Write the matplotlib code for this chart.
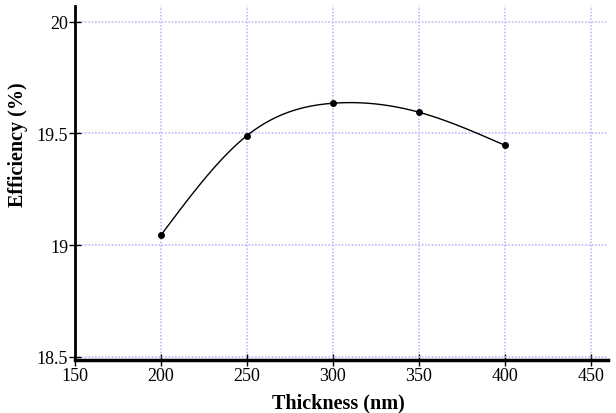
import matplotlib.pyplot as plt
import numpy as np

thickness = [200, 250, 300, 350, 400]
efficiency = [19.045, 19.49, 19.635, 19.595, 19.447]

x_ticks = [150, 200, 250, 300, 350, 400, 450]
y_ticks = [18.5, 19, 19.5, 20]
y_ticklabels = ['18.5', '19', '19.5', '20']


def natural_spline(x, y, xs):
    # natural cubic spline through the points, for the smooth line
    x = np.asarray(x, float)
    y = np.asarray(y, float)
    n = len(x)
    h = np.diff(x)
    A = np.zeros((n, n))
    b = np.zeros(n)
    A[0, 0] = A[-1, -1] = 1
    for i in range(1, n - 1):
        A[i, i - 1] = h[i - 1]
        A[i, i] = 2 * (h[i - 1] + h[i])
        A[i, i + 1] = h[i]
        b[i] = 3 * ((y[i + 1] - y[i]) / h[i] - (y[i] - y[i - 1]) / h[i - 1])
    c = np.linalg.solve(A, b)
    idx = np.clip(np.searchsorted(x, xs) - 1, 0, n - 2)
    dx = xs - x[idx]
    bb = (y[idx + 1] - y[idx]) / h[idx] - h[idx] * (2 * c[idx] + c[idx + 1]) / 3
    d = (c[idx + 1] - c[idx]) / (3 * h[idx])
    return y[idx] + bb * dx + c[idx] * dx ** 2 + d * dx ** 3


plt.rcParams['font.family'] = ['Liberation Serif', 'DejaVu Serif']

fig = plt.figure(figsize=(6.16, 4.14), dpi=100)
ax = fig.add_axes([0.1218, 0.128, 0.865, 0.855])

xs = np.linspace(thickness[0], thickness[-1], 300)
ax.plot(xs, natural_spline(thickness, efficiency, xs), color='black', linewidth=1)
ax.plot(thickness, efficiency, 'o', color='black', markersize=4)

ax.set_xlim(150, 460)
ax.set_ylim(18.486, 20.07)
ax.set_xticks(x_ticks)
ax.set_yticks(y_ticks)
ax.set_yticklabels(y_ticklabels)

ax.grid(True, color='#bcbcfa', linestyle=(0, (1, 1)), linewidth=1.2)
ax.set_axisbelow(True)

for side in ['top', 'right']:
    ax.spines[side].set_visible(False)
ax.spines['left'].set_linewidth(2)
ax.spines['bottom'].set_linewidth(2.5)

ax.tick_params(direction='inout', length=8, width=1, labelsize=13, pad=1)

ax.set_xlabel('Thickness (nm)', fontsize=14.5, fontweight='bold')
ax.set_ylabel('Efficiency (%)', fontsize=14.5, fontweight='bold')
ax.xaxis.set_label_coords(0.494, -0.093)
ax.yaxis.set_label_coords(-0.088, 0.61)

fig.savefig('out.png')
